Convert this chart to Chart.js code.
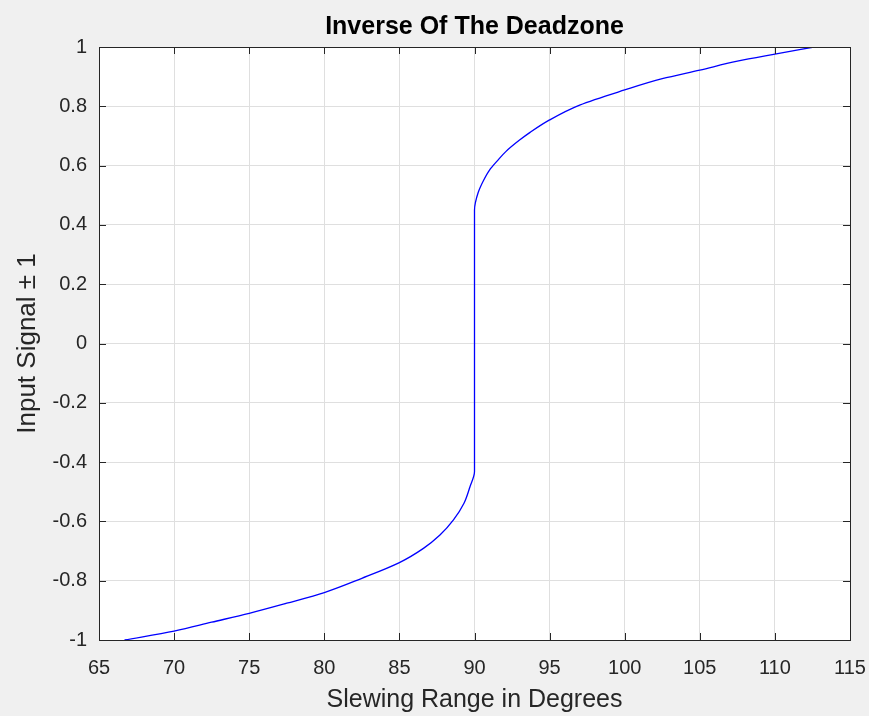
<!DOCTYPE html>
<html>
<head>
<meta charset="utf-8">
<title>Inverse Of The Deadzone</title>
<script src="https://cdn.jsdelivr.net/npm/chart.js@4/dist/chart.umd.min.js"></script>
<style>
  html, body { margin: 0; padding: 0; background: #f0f0f0; }
  #wrap { width: 869px; height: 716px; }
</style>
</head>
<body>
<div id="wrap"><canvas id="c" width="869" height="716"></canvas></div>
<script>
// Slewing angle (degrees) against normalised input signal
const slewAngle = [
  66.7, 70, 72.5, 75, 77.5, 80, 82.5, 85, 86.6, 87.7, 88.6, 89.3, 89.7, 90,
  90, 90, 90, 90, 90, 90, 90, 90, 90,
  90.25, 90.6, 91.0, 91.5, 92.1, 93.0, 93.7, 95.0, 97.0, 100, 102.5, 105, 107.5, 110, 112.6
];
const inputSignal = [
  -1.0, -0.970, -0.940, -0.910, -0.876, -0.840, -0.792, -0.739, -0.691, -0.646, -0.595, -0.539, -0.483, -0.432,
  -0.3, -0.2, -0.1, 0, 0.1, 0.2, 0.3, 0.4, 0.45,
  0.51, 0.55, 0.585, 0.615, 0.648, 0.686, 0.712, 0.754, 0.804, 0.855, 0.893, 0.922, 0.952, 0.976, 1.0
];
const xTicks = [65, 70, 75, 80, 85, 90, 95, 100, 105, 110, 115];
const yTicks = [-1, -0.8, -0.6, -0.4, -0.2, 0, 0.2, 0.4, 0.6, 0.8, 1];

const chartTitle = 'Inverse Of The Deadzone';
const xTitle = 'Slewing Range in Degrees';
const yTitle = 'Input Signal \u00B1 1';

const points = slewAngle.map((x, i) => ({ x: x, y: inputSignal[i] }));

const axisColor = '#262626';
const gridColor = '#dfdfdf';
const fontFamily = '"Liberation Sans", Arial, sans-serif';

// White plot area, framed box with inward ticks, and the title above it
const axesBox = {
  id: 'axesBox',
  beforeDraw(chart) {
    const { ctx, chartArea: a } = chart;
    ctx.save();
    ctx.fillStyle = '#ffffff';
    ctx.fillRect(a.left, a.top, a.right - a.left, a.bottom - a.top);
    ctx.restore();
  },
  afterDraw(chart) {
    const { ctx, chartArea: a, scales } = chart;
    const len = 7;
    ctx.save();
    ctx.strokeStyle = axisColor;
    ctx.lineWidth = 1;
    ctx.beginPath();
    xTicks.forEach(v => {
      const px = Math.round(scales.x.getPixelForValue(v)) + 0.5;
      ctx.moveTo(px, a.bottom); ctx.lineTo(px, a.bottom - len);
      ctx.moveTo(px, a.top); ctx.lineTo(px, a.top + len);
    });
    yTicks.forEach(v => {
      const py = Math.round(scales.y.getPixelForValue(v)) + 0.5;
      ctx.moveTo(a.left, py); ctx.lineTo(a.left + len, py);
      ctx.moveTo(a.right, py); ctx.lineTo(a.right - len, py);
    });
    ctx.stroke();
    ctx.strokeRect(Math.round(a.left) + 0.5, Math.round(a.top) + 0.5,
                   Math.round(a.right - a.left), Math.round(a.bottom - a.top));
    ctx.fillStyle = '#000000';
    ctx.font = 'bold 25px ' + fontFamily;
    ctx.textAlign = 'center';
    ctx.textBaseline = 'alphabetic';
    ctx.fillText(chartTitle, (a.left + a.right) / 2, 34);
    ctx.restore();
  }
};

new Chart(document.getElementById('c'), {
  type: 'scatter',
  data: {
    datasets: [{
      data: points,
      showLine: true,
      borderColor: '#0000ff',
      borderWidth: 1.3,
      pointRadius: 0,
      cubicInterpolationMode: 'monotone',
      fill: false
    }]
  },
  options: {
    indexAxis: 'y',
    responsive: false,
    animation: false,
    devicePixelRatio: 1,
    layout: { padding: { top: 47, right: 19, left: 0, bottom: 0 } },
    plugins: {
      legend: { display: false },
      tooltip: { enabled: false },
      title: { display: false }
    },
    scales: {
      x: {
        type: 'linear',
        min: 65, max: 115,
        afterBuildTicks(s) { s.ticks = xTicks.map(v => ({ value: v })); },
        afterFit(s) { s.height = 76; s.paddingLeft = 0; s.paddingRight = 0; },
        grid: { color: gridColor, drawTicks: false },
        border: { display: false },
        ticks: {
          color: axisColor,
          padding: 16,
          maxRotation: 0,
          font: { family: fontFamily, size: 20 },
          callback: v => String(v)
        },
        title: {
          display: true,
          text: xTitle,
          color: axisColor,
          padding: { top: 0, bottom: 1 },
          font: { family: fontFamily, size: 25 }
        }
      },
      y: {
        type: 'linear',
        min: -1, max: 1,
        afterBuildTicks(s) { s.ticks = yTicks.map(v => ({ value: v })); },
        afterFit(s) { s.width = 99; s.paddingTop = 0; s.paddingBottom = 0; },
        grid: { color: gridColor, drawTicks: false },
        border: { display: false },
        ticks: {
          color: axisColor,
          padding: 12,
          font: { family: fontFamily, size: 20 },
          callback: v => (Math.abs(v) < 1e-9 ? '0' : String(+v.toFixed(1)))
        },
        title: {
          display: true,
          text: yTitle,
          color: axisColor,
          padding: { top: 12, bottom: 0 },
          font: { family: fontFamily, size: 26 }
        }
      }
    }
  },
  plugins: [axesBox]
});
</script>
</body>
</html>
